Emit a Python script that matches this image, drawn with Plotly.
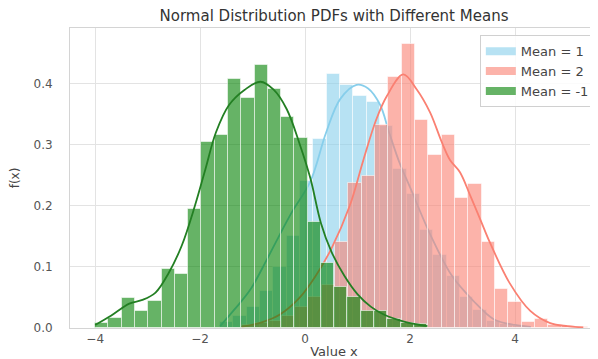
import numpy as np
import plotly.graph_objects as go

# ---------------- data ----------------
labels = ["Mean = 1", "Mean = 2", "Mean = -1"]

# histogram densities (stat = density), each with its own bins
blue_bin_start = -1.62
blue_bin_width = 0.254
blue_density = [0.010, 0.020, 0.035, 0.060, 0.100, 0.150, 0.240, 0.310, 0.415, 0.398,
                0.380, 0.370, 0.330, 0.260, 0.220, 0.160, 0.120, 0.085, 0.050, 0.030,
                0.012, 0.006, 0.004]

red_bin_start = -1.21
red_bin_width = 0.254
red_density = [0.005, 0.008, 0.012, 0.020, 0.035, 0.050, 0.070, 0.140, 0.238, 0.249,
               0.333, 0.410, 0.465, 0.341, 0.283, 0.316, 0.213, 0.235, 0.140, 0.064,
               0.042, 0.010, 0.015, 0.005, 0.003, 0.002]

green_bin_start = -4.0
green_bin_width = 0.253
green_density = [0.008, 0.017, 0.049, 0.028, 0.045, 0.096, 0.089, 0.195, 0.305, 0.316,
                 0.407, 0.377, 0.430, 0.391, 0.346, 0.311, 0.174, 0.106, 0.067, 0.050,
                 0.028, 0.028, 0.014, 0.008, 0.006]

# KDE curves
blue_kde_x = [-1.62, -1.35, -1.05, -0.73, -0.50, -0.25, 0.10, 0.40, 0.67, 0.98, 1.20,
              1.43, 1.60, 1.80, 2.00, 2.40, 2.80, 3.20, 3.60, 4.00, 4.30]
blue_kde_y = [0.003, 0.030, 0.062, 0.112, 0.150, 0.190, 0.240, 0.320, 0.375, 0.398, 0.392,
              0.365, 0.320, 0.270, 0.230, 0.150, 0.085, 0.045, 0.014, 0.005, 0.002]

red_kde_x = [-1.21, -0.80, -0.48, -0.10, 0.20, 0.50, 0.85, 1.11, 1.35, 1.56, 1.87, 2.13,
             2.38, 2.60, 2.76, 2.95, 3.14, 3.35, 3.52, 3.90, 4.29, 4.67, 5.00, 5.30]
red_kde_y = [0.002, 0.010, 0.022, 0.050, 0.085, 0.130, 0.200, 0.275, 0.340, 0.380, 0.415,
             0.390, 0.353, 0.305, 0.275, 0.255, 0.218, 0.175, 0.140, 0.073, 0.028, 0.008,
             0.003, 0.001]

green_kde_x = [-4.00, -3.70, -3.35, -3.10, -2.85, -2.60, -2.35, -2.10, -1.90, -1.70, -1.45,
               -1.15, -0.85, -0.60, -0.35, -0.10, 0.10, 0.30, 0.50, 0.75, 1.00, 1.25, 1.50,
               1.90, 2.33]
green_kde_y = [0.005, 0.020, 0.040, 0.046, 0.058, 0.090, 0.135, 0.200, 0.260, 0.320, 0.365,
               0.390, 0.403, 0.390, 0.358, 0.300, 0.245, 0.172, 0.125, 0.085, 0.055, 0.035,
               0.022, 0.010, 0.003]

x_ticks = [-4, -2, 0, 2, 4]
y_ticks = [0.0, 0.1, 0.2, 0.3, 0.4]

# ---------------- styling ----------------
line_colors = ["#87CEEB", "#FA8072", "#237f23"]
bar_colors = ["rgba(135,206,235,0.6)", "rgba(250,128,114,0.6)", "rgba(0,128,0,0.6)"]
edge_color = "rgba(255,255,255,0.55)"
font_family = "DejaVu Sans, Liberation Sans, Arial, sans-serif"

series = [
    (blue_bin_start, blue_bin_width, blue_density, blue_kde_x, blue_kde_y),
    (red_bin_start, red_bin_width, red_density, red_kde_x, red_kde_y),
    (green_bin_start, green_bin_width, green_density, green_kde_x, green_kde_y),
]

fig = go.Figure()
axis_names = [("x", "y"), ("x2", "y2"), ("x3", "y3")]

for i, (start, width, dens, kx, ky) in enumerate(series):
    xa, ya = axis_names[i]
    lefts = start + width * np.arange(len(dens))
    fig.add_trace(go.Bar(
        x=lefts, y=dens, width=width, offset=0,
        marker=dict(color=bar_colors[i], line=dict(color=edge_color, width=1)),
        xaxis=xa, yaxis=ya, showlegend=False, hoverinfo="skip",
    ))
    fig.add_trace(go.Scatter(
        x=kx, y=ky, mode="lines",
        line=dict(color=line_colors[i], width=1.8, shape="spline", smoothing=1.0),
        xaxis=xa, yaxis=ya, showlegend=False, hoverinfo="skip",
    ))

# legend entries (patch-like wide swatches)
for i, lab in enumerate(labels):
    fig.add_trace(go.Scatter(
        x=[None], y=[None], mode="lines", name=lab,
        line=dict(color=bar_colors[i], width=8),
        xaxis="x3", yaxis="y3", showlegend=True,
    ))

x_range = [-4.48, 5.58]
y_range = [0.0, 0.491]
grid_color = "#e3e3e3"

# the page body has an 8px default margin, so the figure is 8px smaller
W, H = 590, 351

fig.update_layout(
    width=W, height=H,
    margin=dict(l=62, r=0, t=20, b=31),
    paper_bgcolor="white", plot_bgcolor="white",
    barmode="overlay", bargap=0,
    font=dict(family=font_family, color="#444444"),
    title=dict(text="Normal Distribution PDFs with Different Means",
               x=0.5, xref="paper", y=1 - 8 / H, yref="container",
               xanchor="center", yanchor="middle",
               font=dict(size=15, color="#333333")),
    xaxis=dict(range=x_range, tickvals=x_ticks, showgrid=True, gridcolor=grid_color,
               gridwidth=1, zeroline=False, showline=True, linecolor="#d4d4d4",
               mirror=True, ticks="", tickfont=dict(size=12, color="#555555"),
               ticklabelstandoff=0,
               title=dict(text="Value x", font=dict(size=13, color="#444444"), standoff=3)),
    yaxis=dict(range=y_range, tickvals=y_ticks, tickformat=".1f", showgrid=True,
               gridcolor=grid_color, gridwidth=1, zeroline=False, showline=True,
               linecolor="#d4d4d4", mirror=True, ticks="",
               tickfont=dict(size=12, color="#555555"), ticklabelstandoff=14,
               title=dict(text="f(x)", font=dict(size=12, color="#444444"), standoff=17)),
    legend=dict(x=0.994, y=0.976, xanchor="right", yanchor="top",
                bgcolor="rgba(255,255,255,0.85)", bordercolor="#d0d0d0", borderwidth=1,
                font=dict(size=13, color="#444444"), itemwidth=30,
                tracegroupgap=0),
)

for k in ("2", "3"):
    fig.update_layout(**{
        "xaxis" + k: dict(overlaying="x", matches="x", range=x_range, visible=False,
                          showgrid=False),
        "yaxis" + k: dict(overlaying="y", matches="y", range=y_range, visible=False,
                          showgrid=False),
    })

fig.write_html("out.html")
